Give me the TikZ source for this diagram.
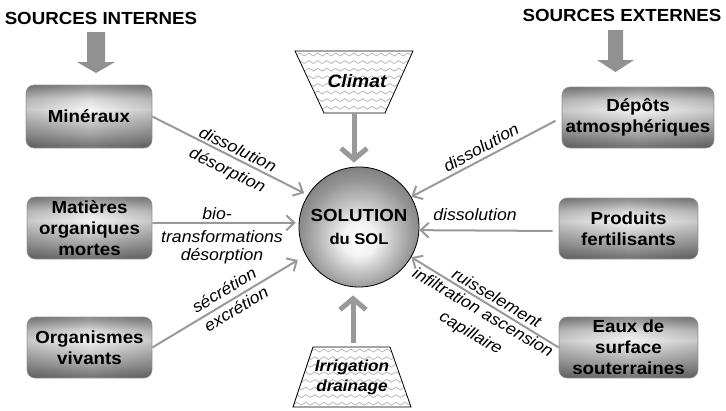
\documentclass[tikz,border=0pt]{standalone}
\usepackage{fontspec}
\setmainfont{Liberation Sans}[FakeStretch=1.07]
\usetikzlibrary{arrows.meta,decorations.pathmorphing,fadings}

\definecolor{linegray}{gray}{0.6}
\definecolor{blockgray}{gray}{0.57}
\definecolor{wavegray}{gray}{0.72}

% glossy grey button look for the source boxes
% (the band 25bp..75bp is what covers the box; 25bp = bottom)
\pgfdeclareverticalshading{boxshade}{100bp}{%
  color(0bp)=(black!58); color(25bp)=(black!56); color(36bp)=(black!36);
  color(56bp)=(black!4); color(64bp)=(black!14); color(75bp)=(black!46);
  color(100bp)=(black!46)}
% darker left and right ends of the boxes
\tikzfading[name=sideshade, left color=transparent!0, right color=transparent!0,
  middle color=transparent!100]
% sphere look for the central node (radius 25bp = rim)
\pgfdeclareradialshading{solshade}{\pgfpoint{0bp}{-6bp}}{%
  color(0bp)=(white); color(7bp)=(black!5); color(15bp)=(black!24);
  color(23bp)=(black!42); color(28bp)=(black!50); color(33bp)=(black!55);
  color(50bp)=(black!55)}

\tikzset{
  srcbox/.style={draw=black!35, line width=0.6pt, rounded corners=8pt,
    shading=boxshade, align=center, inner sep=0pt,
    postaction={fill=black, fill opacity=0.18, path fading=sideshade},
    font=\bfseries\fontsize{17.5}{21}\selectfont},
  conn/.style={draw=linegray, line width=2pt,
    -{Straight Barb[length=8pt,width=15pt]}},
  bigconn/.style={draw=linegray, line width=5pt,
    -{Straight Barb[length=11pt,width=26pt]}},
  lbl/.style={font=\itshape\fontsize{16.5}{18}\selectfont, inner sep=0pt,
    align=center},
  head/.style={font=\bfseries\fontsize{17.5}{20}\selectfont, inner sep=0pt},
  tray/.style={draw=black, line width=0.8pt},
  wave/.style={draw=wavegray, line width=0.8pt, decorate,
    decoration={snake, segment length=9pt, amplitude=1.4pt}},
  traytext/.style={font=\bfseries\itshape, inner sep=0pt, align=center},
}

\begin{document}
\begin{tikzpicture}[x=1pt,y=-1pt]
\useasboundingbox (0,0) rectangle (726,410);

% headings and their block arrows
\node[head] (intsrc) at (101,18) {SOURCES INTERNES};
\node[head] (extsrc) at (622,15) {SOURCES EXTERNES};
\fill[blockgray] (87,32) -- (105,32) -- (105,62) -- (115,62) -- (96,73)
  -- (77,62) -- (87,62) -- cycle;
\fill[blockgray] (608,30) -- (623,30) -- (623,60) -- (634,60) -- (615.5,72)
  -- (597,60) -- (608,60) -- cycle;

% internal sources
\node[srcbox, minimum width=126pt, minimum height=63pt] (mineraux) at (89,116.5) {Minéraux};
\node[srcbox, minimum width=125pt, minimum height=62pt] (matieres) at (89.5,228) {Matières\\organiques\\mortes};
\node[srcbox, minimum width=125pt, minimum height=61pt] (organismes) at (89.5,347.5) {Organismes\\vivants};

% external sources
\node[srcbox, minimum width=152pt, minimum height=61pt] (depots) at (638,117.5) {Dépôts\\atmosphériques};
\node[srcbox, minimum width=139pt, minimum height=61pt] (produits) at (628.5,228.5) {Produits\\fertilisants};
\node[srcbox, minimum width=139pt, minimum height=61pt] (eaux) at (628.5,347.5) {Eaux de\\surface\\souterraines};

% central solution
\node[circle, minimum size=120pt, draw=black, line width=0.8pt, shading=solshade,
  inner sep=0pt, align=center, font=\bfseries\fontsize{17.5}{21}\selectfont]
  (sol) at (359,227) {SOLUTION\\[2pt]{\fontsize{15.5}{18}\selectfont du SOL}};

% climate trapezium
\begin{scope}
  \clip (295,51) -- (413,51) -- (385,113) -- (324,113) -- cycle;
  \foreach \r in {0,...,9} \draw[wave] (288,{54.5+7.6*\r}) -- (425,{54.5+7.6*\r});
\end{scope}
\draw[tray] (295,51) -- (413,51) -- (385,113) -- (324,113) -- cycle;
\node[traytext, font=\bfseries\itshape\fontsize{18}{20}\selectfont] (climat) at (357,81) {Climat};
\coordinate (climatbase) at (354,113);

% irrigation trapezium
\begin{scope}
  \clip (313,347) -- (390,347) -- (411,407) -- (293,407) -- cycle;
  \foreach \r in {0,...,8} \draw[wave] (285,{350.5+7.6*\r}) -- (420,{350.5+7.6*\r});
\end{scope}
\draw[tray] (313,347) -- (390,347) -- (411,407) -- (293,407) -- cycle;
\node[traytext, font=\bfseries\itshape\fontsize{16}{20}\selectfont] (irrig) at (352,377) {Irrigation\\drainage};
\coordinate (irrbase) at (353,343);

% vertical inputs
\draw[bigconn, shorten >=4pt] (climatbase) -- (climatbase |- sol.north);
\draw[bigconn, shorten >=8pt] (irrbase) -- (irrbase |- sol.south);

% fluxes from the sources
\draw[conn, shorten >=4pt] (mineraux.east) -- (sol.148);
\draw[conn, shorten >=3pt] ([yshift=5pt]matieres.east) -- (sol.176);
\draw[conn, shorten >=9pt] (organismes.east) -- (sol.208);
\draw[conn, shorten <=7pt] (depots.west) -- (sol.30);
\draw[conn, shorten <=6pt] ([yshift=-2.5pt]produits.west) -- (sol.357.5);
\draw[conn] (eaux.west) -- (sol.330);

% process labels
\node[lbl, rotate=-26] (l1a) at (238,149) {dissolution};
\node[lbl, rotate=-26] (l1b) at (227,171) {désorption};
\node[lbl] (l2a) at (217,214) {bio-};
\node[lbl] (l2b) at (222,247) {transformations\\désorption};
\node[lbl, rotate=31] (l3a) at (224,290) {sécrétion};
\node[lbl, rotate=31] (l3b) at (236,309) {excrétion};
\node[lbl, rotate=29] (l4) at (481,147.5) {dissolution};
\node[lbl] (l5) at (475,215) {dissolution};
\node[lbl, rotate=-30.5] (l6a) at (497,298) {ruisselement};
\node[lbl, rotate=-30.5, font=\itshape\fontsize{16.5}{23.5}\selectfont] (l6b) at (476.5,323.5) {infiltration ascension\\capillaire};
\end{tikzpicture}
\end{document}
